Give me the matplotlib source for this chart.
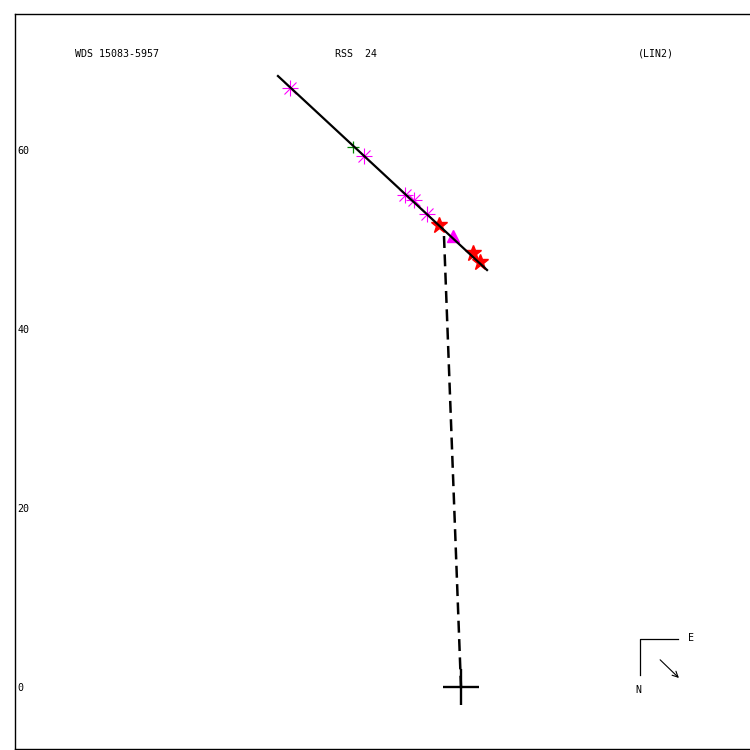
import numpy as np
import matplotlib
matplotlib.use("Agg")
import matplotlib.pyplot as plt

plt.rcParams['font.family'] = ['DejaVu Sans Mono']
plt.rcParams['lines.scale_dashes'] = False

# relative positions (arcsec-like units, primary at origin)
orbit_x = [-20.45, 2.91]
orbit_y = [68.27, 46.59]

ast_x = [-19.11, -10.84, -6.26, -5.25, -3.80]
ast_y = [66.93, 59.33, 54.97, 54.41, 52.85]

plus_x = [-12.07]
plus_y = [60.34]

star_x = [-2.46, 1.34, 2.12]
star_y = [51.62, 48.49, 47.49]

tri_x = [-0.89]
tri_y = [50.39]

node_x = [-1.90, 0.0]
node_y = [50.39, 0.0]

yticks = [0, 20, 40, 60]
title_left = "WDS 15083-5957"
title_mid = "RSS  24"
title_right = "(LIN2)"

fig = plt.figure(figsize=(7.5, 7.5), dpi=100)
ax = fig.add_axes([15 / 750, 1 / 750, 735 / 750, 735 / 750])
ax.set_xlim(-49.83, 32.29)
ax.set_ylim(-6.93, 75.2)

# markers
ax.plot(ast_x, ast_y, ls='none', marker='+', ms=11, mew=0.8, color='#ff00ff')
ax.plot(ast_x, ast_y, ls='none', marker='x', ms=8, mew=0.8, color='#ff00ff')
ax.plot(plus_x, plus_y, ls='none', marker='+', ms=9, mew=0.9, color='#008800')
ax.plot(star_x, star_y, ls='none', marker='*', ms=12, color='red', mec='red')
ax.plot(tri_x, tri_y, ls='none', marker='^', ms=9, color='#ff00ff')

# orbit line and line of nodes
ax.plot(orbit_x, orbit_y, color='black', lw=1.6)
ax.plot(node_x, node_y, color='black', lw=1.8, dashes=(8.6, 4.6))
ax.plot([0], [0], marker='+', ms=26, mew=1.7, color='black')

# frame / ticks
for s in ['top', 'left', 'bottom']:
    ax.spines[s].set_linewidth(1.0)
ax.spines['right'].set_visible(False)
ax.set_xticks([])
ax.set_yticks(yticks)
ax.set_yticklabels([str(v) for v in yticks], fontsize=7.2)
for lab in ax.get_yticklabels():
    lab.set_horizontalalignment('left')
ax.tick_params(axis='y', length=0, pad=-1.5)

# header
ax.text(0.0816, 0.9456, title_left, transform=ax.transAxes, fontsize=7.2, va='center')
ax.text(0.435, 0.9456, title_mid, transform=ax.transAxes, fontsize=7.2, va='center')
ax.text(0.848, 0.9456, title_right, transform=ax.transAxes, fontsize=7.2, va='center')

# compass
ax.plot([0.850, 0.850, 0.902], [0.101, 0.149, 0.149], transform=ax.transAxes,
        color='black', lw=0.9)
ax.text(0.916, 0.151, "E", transform=ax.transAxes, fontsize=7.2, va='center')
ax.text(0.844, 0.080, "N", transform=ax.transAxes, fontsize=7.2, va='center')
ax.annotate("", xy=(0.906, 0.094), xytext=(0.875, 0.124), xycoords='axes fraction',
            arrowprops=dict(arrowstyle='->', lw=0.8, color='black'))

fig.savefig("out.png", dpi=100)
